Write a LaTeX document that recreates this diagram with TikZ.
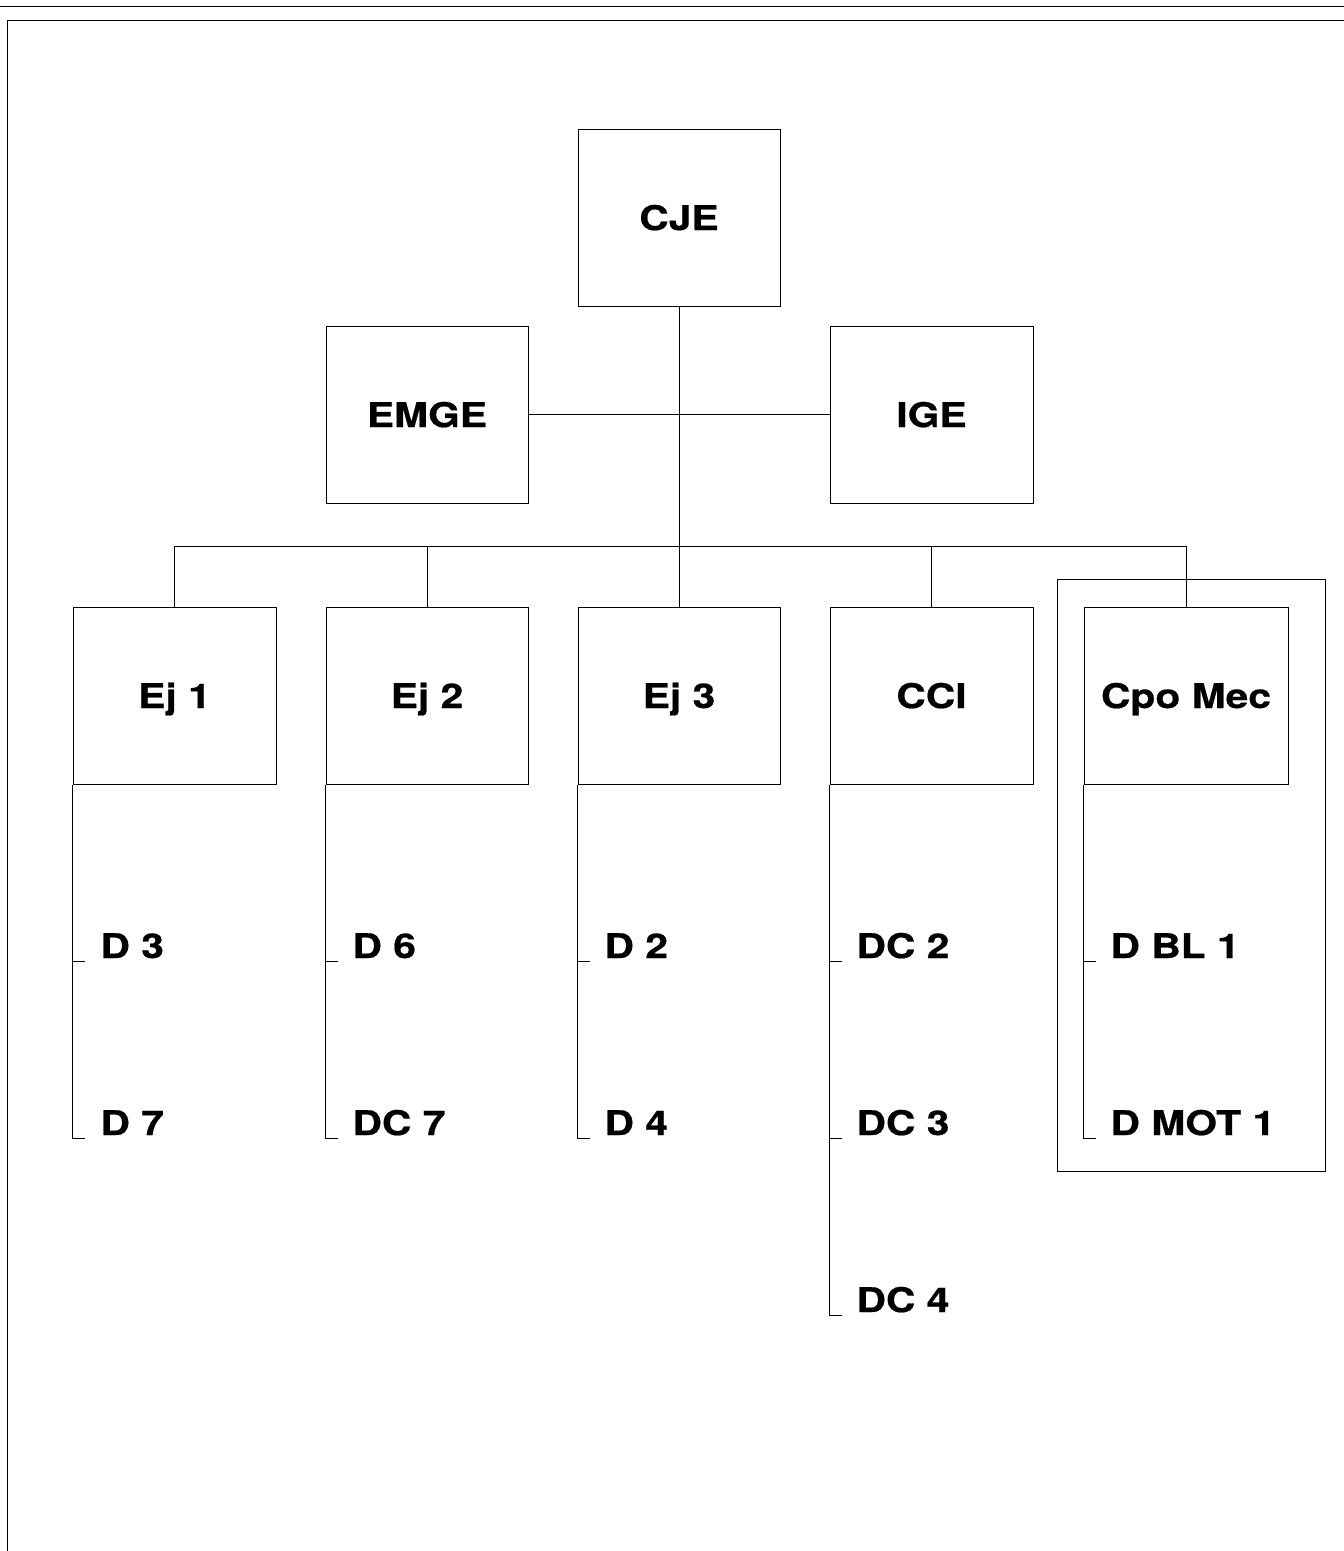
\documentclass[tikz,border=0pt]{standalone}
\usepackage{fontspec}
\newfontfamily\labfont{TeX Gyre Heros}[FakeStretch=1.2,FakeBold=0.6]
\begin{document}
\begin{tikzpicture}[x=1pt,y=-1pt,line width=1pt,
  box/.style={draw,minimum width=202pt,minimum height=177pt,inner sep=0pt,
    text height=25pt,text depth=0pt,
    font=\labfont\bfseries\fontsize{34}{40}\selectfont},
  item/.style={anchor=base west,inner sep=0pt,
    font=\labfont\bfseries\fontsize{34}{40}\selectfont}]
\useasboundingbox (0,0) rectangle (1344,1551);
% page border
\draw (0,6) -- (1344,6);
\draw (1344,20) -- (7,20) -- (7,1551);
% boxes
\node[box] (CJE) at (679,217.5) {CJE};
\node[box] (EMGE) at (427,414.5) {EMGE};
\node[box,minimum width=203pt] (IGE) at (931.5,414.5) {IGE};
\node[box,minimum width=203pt] (Ej1) at (174.5,695.5) {Ej 1};
\node[box] (Ej2) at (427,695.5) {Ej 2};
\node[box] (Ej3) at (679,695.5) {Ej 3};
\node[box,minimum width=203pt] (CCI) at (931.5,695.5) {CCI};
\node[box,minimum width=204pt] (Cpo) at (1186,695.5) {Cpo Mec};
\node[draw,minimum width=268pt,minimum height=592pt,inner sep=0pt] (frame) at (1191,875) {};
% connectors
\coordinate (busy) at (0,546);
\draw (CJE.south) -- (Ej3.north);
\draw (EMGE.east) -- (IGE.west);
\draw (Ej1.north) -- (Ej1.north |- busy) -- (Cpo.north |- busy) -- (Cpo.north);
\draw (Ej2.north) -- (Ej2.north |- busy);
\draw (CCI.north) -- (CCI.north |- busy);
% sub-items
\node[item] (D3) at (100,958) {D 3};
\node[item] (D7) at (100,1135) {D 7};
\node[item] (D6) at (352,958) {D 6};
\node[item] (DC7) at (352,1135) {DC 7};
\node[item] (D2) at (604,958) {D 2};
\node[item] (D4) at (604,1135) {D 4};
\node[item] (DC2) at (856,958) {DC 2};
\node[item] (DC3) at (856,1135) {DC 3};
\node[item] (DC4) at (856,1312) {DC 4};
\node[item] (DBL) at (1110,958) {D BL 1};
\node[item] (DMOT) at (1110,1135) {D MOT 1};
\draw (Ej1.south west) -- (Ej1.south west |- D7.base) -- ++(0,3) -- ++(12,0);
\draw (Ej1.south west |- D3.base) ++(0,3) -- ++(12,0);
\draw (Ej2.south west) -- (Ej2.south west |- DC7.base) -- ++(0,3) -- ++(12,0);
\draw (Ej2.south west |- D6.base) ++(0,3) -- ++(12,0);
\draw (Ej3.south west) -- (Ej3.south west |- D4.base) -- ++(0,3) -- ++(12,0);
\draw (Ej3.south west |- D2.base) ++(0,3) -- ++(12,0);
\draw (CCI.south west) -- (CCI.south west |- DC4.base) -- ++(0,3) -- ++(12,0);
\draw (CCI.south west |- DC2.base) ++(0,3) -- ++(12,0);
\draw (CCI.south west |- DC3.base) ++(0,3) -- ++(12,0);
\draw (Cpo.south west) -- (Cpo.south west |- DMOT.base) -- ++(0,3) -- ++(12,0);
\draw (Cpo.south west |- DBL.base) ++(0,3) -- ++(12,0);
\end{tikzpicture}
\end{document}
